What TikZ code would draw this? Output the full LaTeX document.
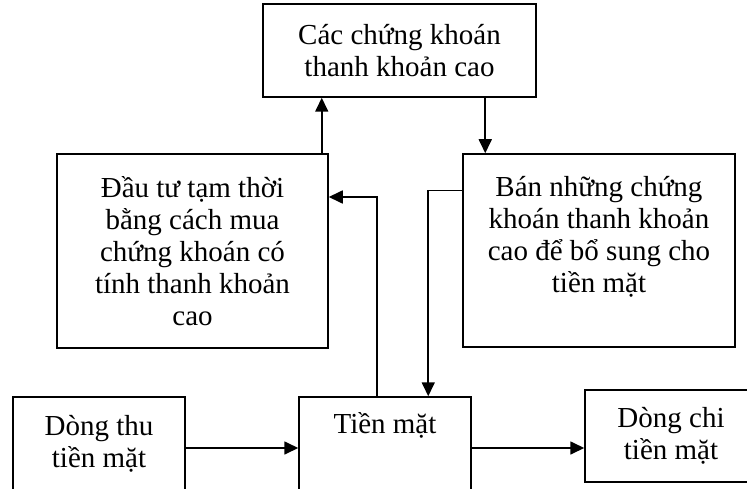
\documentclass[tikz,border=0pt]{standalone}
\usepackage{fontspec}
\setmainfont{Liberation Serif}
\usetikzlibrary{arrows.meta}

\begin{document}
\begin{tikzpicture}[x=1pt,y=-1pt,
		box/.style={draw,line width=1.5pt,fill=white,align=center,inner sep=0pt,
			font=\fontsize{29}{32}\selectfont},
		flow/.style={line width=1.7pt,-{Triangle[width=13pt,length=14pt]}}]
			% Define the page size
			\def\pw{747}
			\def\ph{489}
			\clip (0,0) rectangle (\pw,\ph);
			% Draw the boxes
			\node[box,minimum width=273pt,minimum height=93pt] (cac) at (399.5,50.5) {Các chứng khoán\\thanh khoản cao};
			\node[box,minimum width=271pt,minimum height=194pt] (dautu) at (192.5,251) {Đầu tư tạm thời\\bằng cách mua\\chứng khoán có\\tính thanh khoản\\cao};
			\node[box,minimum width=272pt,minimum height=193pt] (ban) at (599,250.5) {Bán những chứng\\khoán thanh khoản\\cao để bổ sung cho\\tiền mặt\\\mbox{}};
			\node[box,minimum width=172pt,minimum height=102pt] (thu) at (99,448) {Dòng thu\\tiền mặt\\[-18pt]\mbox{}};
			\node[box,minimum width=172pt,minimum height=102pt] (tien) at (385,448) {Tiền mặt\\[18pt]\mbox{}};
			\node[box,minimum width=172pt,minimum height=92pt] (chi) at (671,436) {Dòng chi\\tiền mặt};
			% Points where the connectors leave and enter the boxes
			\coordinate (dautuout) at ([xshift=-7pt]dautu.north east);
			\coordinate (banin) at ([xshift=23pt]ban.north west);
			\coordinate (tienout) at ([xshift=79pt]tien.north west);
			\coordinate (dautuin) at ([yshift=54pt]dautu.east);
			\coordinate (banout) at ([yshift=60pt]ban.west);
			\coordinate (tienin) at ([xshift=130pt]tien.north west);
			% Draw the connectors
			\draw[flow] (dautuout) -- (dautuout |- cac.south);
			\draw[flow] (banin |- cac.south) -- (banin);
			\draw[flow] (tienout) |- (dautuin);
			\draw[flow] (banout) -| (tienin);
			\draw[flow] (thu) -- (tien);
			\draw[flow] (tien.east) -- (chi.west |- tien.east);
		\end{tikzpicture}
\end{document}
